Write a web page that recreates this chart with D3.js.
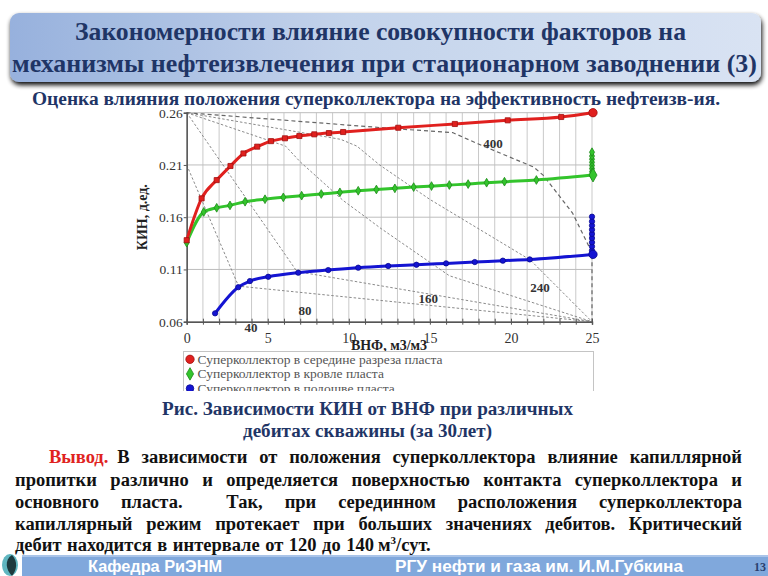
<!DOCTYPE html>
<html><head><meta charset="utf-8">
<script src="https://cdn.jsdelivr.net/npm/d3@7"></script>
<style>html,body{margin:0;padding:0;background:#fff;} svg{display:block}</style>
</head><body>
<svg id="c" width="768" height="576"></svg>
<script>
// ---------- DATA ----------
const xTickValues = [0,5,10,15,20,25];
const xMinorTicks = [0,1,2,3,4,5,6,7,8,9,10,11,12,13,14,15,16,17,18,19,20,21,22,23,24,25];
const yTickValues = [0.06,0.11,0.16,0.21,0.26];
const yTickLabels = ["0.06","0.11","0.16","0.21","0.26"];
const seriesNames = ["Суперколлектор в середине разреза пласта","Суперколлектор в кровле пласта","Суперколлектор в подошве пласта"];

const redX = [0,0.92,1.85,2.7,3.5,4.35,5.2,6.06,6.95,7.87,8.77,9.65,13.05,16.54,19.8,23.1,25];
const redY = [0.138,0.178,0.1955,0.209,0.221,0.2275,0.2328,0.2355,0.2377,0.2393,0.2405,0.2415,0.2456,0.2492,0.2527,0.2559,0.260];

const greenX = [0,1.05,1.85,2.67,3.6,4.83,5.96,7.09,8.3,9.45,10.58,11.7,12.84,14,15.1,16.2,17.36,18.5,19.6,21.57,25];
const greenY = [0.1356,0.165,0.169,0.1713,0.1748,0.1772,0.179,0.1806,0.1822,0.1838,0.1853,0.1865,0.1876,0.1888,0.1898,0.1908,0.1917,0.193,0.194,0.1956,0.2003];
const greenEndY = [0.2003,0.2035,0.2065,0.2095,0.2125,0.2155,0.2185,0.2222];

const blueX = [1.75,3.18,3.9,5.03,6.88,8.73,10.58,12.43,14.17,16.0,17.77,19.5,21.16,25];
const blueY = [0.068,0.093,0.0989,0.103,0.1069,0.1094,0.1117,0.1133,0.1145,0.1158,0.1171,0.1184,0.1196,0.1244];
const blueEndY = [0.1244,0.128,0.132,0.136,0.140,0.144,0.148,0.152,0.156,0.1605];

const isoLabels = ["40","80","160","240","400"];
const iso40X = [0,3.2,25],            iso40Y = [0.21,0.094,0.06];
const iso80X = [0,6.8,25],            iso80Y = [0.26,0.108,0.06];
const iso160X = [0,6.1,7,9.65,12,16.2,25], iso160Y = [0.26,0.228,0.213,0.176,0.149,0.104,0.06];
const iso240X = [0,9.5,10.5,11.9,15,21.2,25], iso240Y = [0.26,0.2345,0.228,0.21,0.177,0.119,0.06];
const iso400X = [0,13,16.4,18,21.4,22,23.8,25,25], iso400Y = [0.26,0.2445,0.241,0.23,0.208,0.2,0.164,0.126,0.06];
const isoLabelX = [3.96,7.3,14.9,21.8,18.9];
const isoLabelY = [0.055,0.071,0.0826,0.0933,0.231];

const titleLines = ["Закономерности влияние совокупности факторов на","механизмы нефтеизвлечения при стационарном заводнении (3)"];
const subtitle = "Оценка влияния положения суперколлектора на эффективность нефтеизв-ия.";
const captionLines = ["Рис. Зависимости КИН от ВНФ при различных","дебитах скважины (за 30лет)"];
const bodyLines = [
  "В зависимости от положения суперколлектора влияние капиллярной",
  "пропитки различно и определяется поверхностью контакта суперколлектора и",
  "основного пласта.  Так, при серединном расположения суперколлектора",
  "капиллярный режим протекает при больших значениях дебитов. Критический",
  "дебит находится в интервале от 120 до 140"
];
const footerLeft = "Кафедра РиЭНМ", footerRight = "РГУ нефти и газа им. И.М.Губкина", pageNum = "13";

// ---------- DRAW ----------
const svg = d3.select("#c");
const defs = svg.append("defs");
const serif = "'Liberation Serif','Times New Roman',serif";
const navy = "#1f3566";

const tg = defs.append("linearGradient").attr("id","tg").attr("x1","0").attr("x2","1").attr("y1","0").attr("y2","0");
tg.append("stop").attr("offset","0").attr("stop-color","#94afdc");
tg.append("stop").attr("offset","0.45").attr("stop-color","#c2d2eb");
tg.append("stop").attr("offset","1").attr("stop-color","#d8e3f3");
const sh = defs.append("filter").attr("id","sh").attr("x","-5%").attr("y","-20%").attr("width","110%").attr("height","150%");
sh.append("feGaussianBlur").attr("in","SourceAlpha").attr("stdDeviation","2.5");
sh.append("feOffset").attr("dx","1").attr("dy","3").attr("result","b");
const fm = sh.append("feMerge"); fm.append("feMergeNode").attr("in","b"); fm.append("feMergeNode").attr("in","SourceGraphic");

svg.append("rect").attr("x",10).attr("y",13).attr("width",751).attr("height",69).attr("rx",9)
  .attr("fill","url(#tg)").attr("filter","url(#sh)").attr("opacity",0.97);
const titleX = [[75,686],[12,757]], titleBase=[40,72];
titleLines.forEach((t,i)=>{
  svg.append("text").attr("x",titleX[i][0]).attr("y",titleBase[i]).text(t)
    .attr("font-family",serif).attr("font-weight","bold").attr("font-size",25).attr("fill",navy)
    .attr("textLength",titleX[i][1]-titleX[i][0]).attr("lengthAdjust","spacingAndGlyphs");
});
svg.append("text").attr("x",32).attr("y",104.5).text(subtitle)
  .attr("font-family",serif).attr("font-weight","bold").attr("font-size",18.5).attr("fill",navy)
  .attr("textLength",688).attr("lengthAdjust","spacingAndGlyphs");

// chart
const x = d3.scaleLinear().domain([0,25]).range([186.7,592]);
const y = d3.scaleLinear().domain([0.06,0.26]).range([321.7,112.7]);
const ch = svg.append("g");
ch.append("g").selectAll("line").data(xMinorTicks).join("line")
  .attr("x1",d=>x(d)).attr("x2",d=>x(d)).attr("y1",y(0.06)).attr("y2",y(0.26))
  .attr("stroke","#c9c9c9").attr("stroke-width",1);
ch.append("g").selectAll("line").data(yTickValues).join("line")
  .attr("x1",x(0)).attr("x2",x(25)).attr("y1",d=>y(d)).attr("y2",d=>y(d))
  .attr("stroke","#bdbdbd").attr("stroke-width",1);

// isolines
const isoX=[iso40X,iso80X,iso160X,iso240X,iso400X], isoY=[iso40Y,iso80Y,iso160Y,iso240Y,iso400Y];
const lineGen = d3.line().x(d=>x(d[0])).y(d=>y(d[1]));
isoX.forEach((xs,i)=>{
  const pts = xs.map((v,j)=>[v,isoY[i][j]]);
  ch.append("path").attr("d",lineGen(pts)).attr("fill","none")
    .attr("stroke", i===4 ? "#666" : "#8a8a8a").attr("stroke-width", i===4?1.2:1)
    .attr("stroke-dasharray", i===4 ? "4,3" : "2.5,2");
});
isoLabels.forEach((l,i)=>{
  ch.append("text").attr("x",x(isoLabelX[i])).attr("y",y(isoLabelY[i])+5).attr("text-anchor","middle")
    .text(l).attr("font-family",serif).attr("font-weight","bold").attr("font-size",13).attr("fill","#333");
});

// axes
const xa = ch.append("g").attr("transform",`translate(0,${y(0.06)})`)
  .call(d3.axisBottom(x).tickValues(xMinorTicks).tickFormat(d=>xTickValues.includes(d)?d:"").tickSize(3).tickPadding(8));
xa.select(".domain").attr("stroke","#555").attr("stroke-width",1.5);
xa.selectAll(".tick line").attr("y1",-3).attr("y2",3).attr("stroke","#555");
xa.selectAll("text").attr("font-family",serif).attr("font-size",14).attr("fill","#333");
const ya = ch.append("g").attr("transform",`translate(${x(0)},0)`)
  .call(d3.axisLeft(y).tickValues(yTickValues).tickFormat((d,i)=>yTickLabels[i]).tickSize(3).tickPadding(1));
ya.select(".domain").attr("stroke","#555").attr("stroke-width",1.5);
ya.selectAll(".tick line").attr("stroke","#555");
ya.selectAll("text").attr("font-family",serif).attr("font-size",13.5).attr("fill","#333");

ch.append("text").attr("transform",`translate(147,${(y(0.06)+y(0.26))/2}) rotate(-90)`).attr("text-anchor","middle")
  .text("КИН, д.ед.").attr("font-family",serif).attr("font-weight","bold").attr("font-size",14).attr("fill","#222");
ch.append("text").attr("x",389).attr("y",350).attr("text-anchor","middle")
  .text("ВНФ, м3/м3").attr("font-family",serif).attr("font-weight","bold").attr("font-size",14).attr("fill","#222");

// series
const curve = d3.line().x(d=>x(d[0])).y(d=>y(d[1])).curve(d3.curveMonotoneX);
function series(xs, ys, endY, color, dark, shape, endShape){
  const pts = xs.map((v,i)=>[v,ys[i]]);
  const g = ch.append("g");
  g.append("path").attr("d",curve(pts)).attr("fill","none").attr("stroke",color).attr("stroke-width",3);
  let endPts = [];
  if(endY){
    endPts = endY.map(v=>[25,v]);
    g.append("path").attr("d",lineGen(endPts)).attr("fill","none").attr("stroke",color).attr("stroke-width",3);
  }
  const all = pts.concat(endPts);
  const sym = d3.symbol().type(shape).size(shape===d3.symbolSquare?26:22);
  g.selectAll(".m").data(all).join("path")
    .attr("transform",d=>`translate(${x(d[0])},${y(d[1])})`).attr("d",sym())
    .attr("fill",color).attr("stroke",dark).attr("stroke-width",0.8);
  const last = pts[pts.length-1];
  g.append("path").attr("transform",`translate(${x(last[0])+1},${y(last[1])})`).attr("d",d3.symbol().type(endShape).size(55)())
    .attr("fill",color).attr("stroke",dark).attr("stroke-width",0.8);
}
series(greenX,greenY,greenEndY,"#33c42c","#1e8a1a",d3.symbolDiamond,d3.symbolDiamond);
series(blueX,blueY,blueEndY,"#1414d2","#0a0a90",d3.symbolCircle,d3.symbolCircle);
series(redX,redY,null,"#e0201e","#a01010",d3.symbolSquare,d3.symbolCircle);

// legend
const cp = defs.append("clipPath").attr("id","lc");
cp.append("rect").attr("x",170).attr("y",340).attr("width",440).attr("height",51);
const lg = svg.append("g").attr("clip-path","url(#lc)");
lg.append("rect").attr("x",183.5).attr("y",351.5).attr("width",410).attr("height",60).attr("fill","#fff").attr("stroke","#c4c4c4");
const legColors=["#e0201e","#33c42c","#1414d2"], legDark=["#a01010","#1e8a1a","#0a0a90"];
const legShapes=[d3.symbolCircle,d3.symbolDiamond,d3.symbolCircle];
seriesNames.forEach((n,i)=>{
  const cy = 359.3+14.6*i;
  lg.append("path").attr("transform",`translate(190,${cy})`).attr("d",d3.symbol().type(legShapes[i]).size(i===0?55:45)())
    .attr("fill",legColors[i]).attr("stroke",legDark[i]).attr("stroke-width",0.8);
  lg.append("text").attr("x",197.5).attr("y",cy+4.5).text(n).attr("font-family",serif).attr("font-size",13.5).attr("fill","#555");
});

// caption
const capX=[[162,573],[243,492]], capB=[415,437];
captionLines.forEach((t,i)=>{
  svg.append("text").attr("x",capX[i][0]).attr("y",capB[i]).text(t)
    .attr("font-family",serif).attr("font-weight","bold").attr("font-size",18.5).attr("fill",navy)
    .attr("textLength",capX[i][1]-capX[i][0]).attr("lengthAdjust","spacingAndGlyphs");
});

// body text (justified)
const bodyB=[463,486,508,530,551];
const bodyX0=[110,15,15,15,15], bodyX1=742;
function wordText(g,w){
  return g.append("text").text(w).attr("font-family",serif).attr("font-weight","bold").attr("font-size",18.5).attr("fill","#111");
}
const vyv = svg.append("text").attr("x",49).attr("y",bodyB[0]).text("Вывод.").attr("font-family",serif)
  .attr("font-weight","bold").attr("font-size",18.5).attr("fill","#e0231f");
bodyLines.forEach((line,i)=>{
  const g = svg.append("g");
  const words = line.split(" ");
  const els = words.map(w=>wordText(g,w));
  if(i===4){
    const u = g.append("text").attr("font-family",serif).attr("font-weight","bold").attr("font-size",18.5).attr("fill","#111");
    u.append("tspan").text("м");
    u.append("tspan").text("3").attr("font-size",11).attr("dy",-7);
    u.append("tspan").text("/сут.").attr("dy",7);
    els.push(u); words.push("x");
  }
  const widths = els.map(e=>e.node().getComputedTextLength());
  const total = d3.sum(widths);
  const x0 = i===0 ? vyv.node().getComputedTextLength()+49+9 : bodyX0[i];
  const gap = i===4 ? 5.5 : (bodyX1-x0-total)/(els.length-1);
  let cx = x0;
  els.forEach((e,j)=>{ e.attr("x",cx).attr("y",bodyB[i]); cx += widths[j] + (j===els.length-2 && i===4 ? 4 : gap); });
});

// footer
svg.append("rect").attr("x",22).attr("y",555).attr("width",746).attr("height",21).attr("fill","#80a8dc");
svg.append("rect").attr("x",22).attr("y",555).attr("width",746).attr("height",2).attr("fill","#a9c4e9");
svg.append("text").attr("x",88).attr("y",572).text(footerLeft).attr("font-family","'Liberation Sans',Arial,sans-serif")
  .attr("font-weight","bold").attr("font-size",16).attr("fill","#fff").attr("textLength",134).attr("lengthAdjust","spacingAndGlyphs");
svg.append("text").attr("x",395).attr("y",572).text(footerRight).attr("font-family","'Liberation Sans',Arial,sans-serif")
  .attr("font-weight","bold").attr("font-size",16).attr("fill","#fff").attr("textLength",288).attr("lengthAdjust","spacingAndGlyphs");
svg.append("text").attr("x",760).attr("y",571).attr("text-anchor","middle").text(pageNum).attr("font-family",serif)
  .attr("font-weight","bold").attr("font-size",12).attr("fill","#2a3f6e");
svg.append("ellipse").attr("cx",10).attr("cy",565).attr("rx",8).attr("ry",11).attr("fill","#5fb6c0");
svg.append("path").attr("d","M12,555 C4,560 6,570 12,576 C17,570 18,561 12,555 Z").attr("fill","#1d3a3e");
</script>
</body></html>
